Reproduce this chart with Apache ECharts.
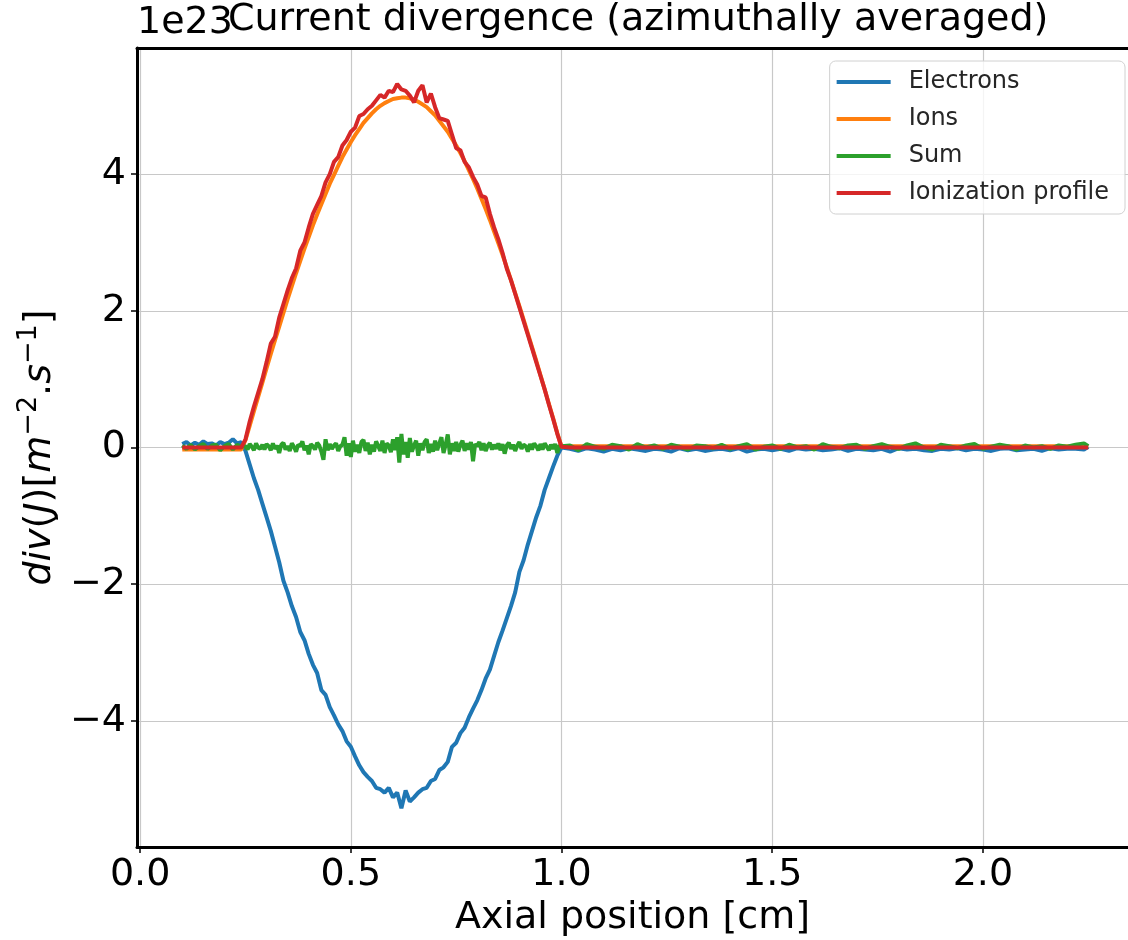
<!DOCTYPE html>
<html><head><meta charset="utf-8">
<script src="https://cdn.jsdelivr.net/npm/echarts@6/dist/echarts.min.js"></script>
<style>html,body{margin:0;padding:0;background:#fff}#c{width:1128px;height:940px}</style>
</head><body><div id="c"></div><script>
// Axial positions [cm] (electrons, ions, ionization profile)
const axialPos = [
 0.10,0.11,0.12,0.13,0.14,0.15,0.16,0.17,0.18,0.19,0.20,0.21,0.22,0.23,0.24,
 0.25,0.26,0.27,0.28,0.29,0.30,0.31,0.32,0.33,0.34,
 0.35,0.36,0.37,0.38,0.39,0.40,0.41,0.42,0.43,0.44,
 0.45,0.46,0.47,0.48,0.49,0.50,0.51,0.52,0.53,0.54,
 0.55,0.56,0.57,0.58,0.59,0.60,0.61,0.62,0.63,0.64,
 0.65,0.66,0.67,0.68,0.69,0.70,0.71,0.72,0.73,0.74,
 0.75,0.76,0.77,0.78,0.79,0.80,0.81,0.82,0.83,0.84,
 0.85,0.86,0.87,0.88,0.89,0.90,0.91,0.92,0.93,0.94,
 0.95,0.96,0.97,0.98,0.99,1.00,
 1.02,1.04,1.06,1.08,1.10,1.12,1.14,1.16,1.18,1.20,
 1.22,1.24,1.26,1.28,1.30,1.32,1.34,1.36,1.38,1.40,
 1.42,1.44,1.46,1.48,1.50,1.52,1.54,1.56,1.58,1.60,
 1.62,1.64,1.66,1.68,1.70,1.72,1.74,1.76,1.78,1.80,
 1.82,1.84,1.86,1.88,1.90,1.92,1.94,1.96,1.98,2.00,
 2.02,2.04,2.06,2.08,2.10,2.12,2.14,2.16,2.18,2.20,
 2.22,2.24,2.25
];
// Axial positions [cm] for the Sum series (finer in the active zone)
const sumPos = [
 0.10,0.11,0.12,0.13,0.14,0.15,0.16,0.17,0.18,0.19,0.20,0.21,0.22,0.23,0.24,
 0.250,0.255,0.260,0.265,0.270,0.275,0.280,0.285,0.290,0.295,
 0.300,0.305,0.310,0.315,0.320,0.325,0.330,0.335,0.340,0.345,
 0.350,0.355,0.360,0.365,0.370,0.375,0.380,0.385,0.390,0.395,
 0.400,0.405,0.410,0.415,0.420,0.425,0.430,0.435,0.440,0.445,
 0.450,0.455,0.460,0.465,0.470,0.475,0.480,0.485,0.490,0.495,
 0.500,0.505,0.510,0.515,0.520,0.525,0.530,0.535,0.540,0.545,
 0.550,0.555,0.560,0.565,0.570,0.575,0.580,0.585,0.590,0.595,
 0.600,0.605,0.610,0.615,0.620,0.625,0.630,0.635,0.640,0.645,
 0.650,0.655,0.660,0.665,0.670,0.675,0.680,0.685,0.690,0.695,
 0.700,0.705,0.710,0.715,0.720,0.725,0.730,0.735,0.740,0.745,
 0.750,0.755,0.760,0.765,0.770,0.775,0.780,0.785,0.790,0.795,
 0.800,0.805,0.810,0.815,0.820,0.825,0.830,0.835,0.840,0.845,
 0.850,0.855,0.860,0.865,0.870,0.875,0.880,0.885,0.890,0.895,
 0.900,0.905,0.910,0.915,0.920,0.925,0.930,0.935,0.940,0.945,
 0.950,0.955,0.960,0.965,0.970,0.975,0.980,0.985,0.990,0.995,
 1.000,
 1.02,1.04,1.06,1.08,1.10,1.12,1.14,1.16,1.18,1.20,
 1.22,1.24,1.26,1.28,1.30,1.32,1.34,1.36,1.38,1.40,
 1.42,1.44,1.46,1.48,1.50,1.52,1.54,1.56,1.58,1.60,
 1.62,1.64,1.66,1.68,1.70,1.72,1.74,1.76,1.78,1.80,
 1.82,1.84,1.86,1.88,1.90,1.92,1.94,1.96,1.98,2.00,
 2.02,2.04,2.06,2.08,2.10,2.12,2.14,2.16,2.18,2.20,
 2.22,2.24,2.25
];
// Values in units of 1e23 m^-2.s^-1
const electrons = [
 0.05,0.08,0.03,0.07,0.04,0.09,0.05,0.06,0.03,0.08,0.05,0.07,0.12,0.06,0.08,
 -0.05,-0.25,-0.45,-0.62,-0.82,-1.02,-1.22,-1.45,-1.68,-1.95,
 -2.12,-2.32,-2.48,-2.70,-2.82,-3.02,-3.18,-3.30,-3.55,-3.62,
 -3.80,-3.92,-4.05,-4.15,-4.30,-4.38,-4.52,-4.65,-4.75,-4.82,
 -4.88,-4.98,-5.00,-5.05,-4.98,-5.12,-5.05,-5.28,-5.02,-5.18,
 -5.12,-5.05,-5.00,-4.98,-4.88,-4.85,-4.72,-4.68,-4.60,-4.38,
 -4.32,-4.18,-4.10,-3.95,-3.82,-3.70,-3.55,-3.38,-3.25,-3.05,
 -2.85,-2.68,-2.50,-2.32,-2.12,-1.82,-1.65,-1.42,-1.22,-1.02,
 -0.85,-0.62,-0.45,-0.28,-0.12,0.00,
 -0.02,-0.05,-0.01,-0.03,-0.06,-0.02,-0.04,-0.01,-0.03,-0.05,
 -0.02,-0.03,-0.06,-0.01,-0.04,-0.02,-0.05,-0.03,-0.02,-0.04,
 -0.01,-0.06,-0.03,-0.02,-0.04,-0.02,-0.05,-0.01,-0.03,-0.02,
 -0.04,-0.03,-0.01,-0.05,-0.02,-0.03,-0.04,-0.02,-0.06,-0.01,
 -0.03,-0.02,-0.04,-0.05,-0.02,-0.03,-0.01,-0.04,-0.02,-0.03,
 -0.05,-0.02,-0.01,-0.04,-0.03,-0.02,-0.05,-0.01,-0.03,-0.02,
 -0.02,-0.03,0.01
];
const ions = [
 -0.03,-0.03,-0.03,-0.03,-0.03,-0.03,-0.03,-0.03,-0.03,-0.03,-0.03,-0.03,-0.03,-0.03,-0.03,
 0.11,0.32,0.53,0.74,0.95,1.16,1.37,1.57,1.77,1.97,
 2.17,2.36,2.55,2.73,2.91,3.08,3.25,3.41,3.56,3.71,
 3.86,3.99,4.12,4.25,4.36,4.47,4.57,4.66,4.75,4.82,
 4.89,4.95,5.00,5.04,5.07,5.10,5.11,5.12,5.12,5.11,
 5.09,5.06,5.02,4.98,4.92,4.86,4.78,4.70,4.62,4.52,
 4.42,4.31,4.19,4.06,3.93,3.79,3.64,3.49,3.33,3.16,
 2.99,2.82,2.64,2.45,2.26,2.07,1.87,1.67,1.47,1.27,
 1.06,0.85,0.64,0.43,0.21,0.01,
 0.02,0.02,0.02,0.02,0.02,0.02,0.02,0.02,0.02,0.02,
 0.02,0.02,0.02,0.02,0.02,0.02,0.02,0.02,0.02,0.02,
 0.02,0.02,0.02,0.02,0.02,0.02,0.02,0.02,0.02,0.02,
 0.02,0.02,0.02,0.02,0.02,0.02,0.02,0.02,0.02,0.02,
 0.02,0.02,0.02,0.02,0.02,0.02,0.02,0.02,0.02,0.02,
 0.02,0.02,0.02,0.02,0.02,0.02,0.02,0.02,0.02,0.02,
 0.02,0.02,0.02
];
const sumDiv = [
 0.03,-0.02,0.04,-0.03,0.02,0.05,-0.02,0.03,0.04,-0.04,0.02,0.05,-0.03,0.04,0.01,
 0.02,-0.03,0.05,0.01,-0.04,0.06,0.00,-0.02,0.04,-0.03,
 0.05,0.02,-0.04,0.06,-0.02,0.03,-0.08,0.04,0.07,-0.03,
 0.02,-0.05,0.06,0.01,-0.06,0.04,0.02,0.09,-0.04,0.03,
 -0.10,0.05,0.02,-0.03,0.07,0.03,-0.06,-0.18,0.12,-0.04,
 0.05,-0.02,0.03,0.06,-0.05,0.02,0.04,0.15,-0.12,0.06,
 -0.14,0.10,-0.06,0.04,-0.08,0.08,0.11,-0.05,0.07,-0.10,
 0.04,-0.06,0.09,0.02,-0.05,0.10,-0.08,0.06,0.03,-0.07,
 0.12,-0.04,0.15,-0.22,0.20,-0.10,0.08,-0.15,0.14,-0.06,
 0.03,0.10,-0.12,0.06,-0.04,0.08,0.12,-0.08,0.05,-0.06,
 0.10,-0.04,0.06,0.15,-0.08,0.04,0.19,-0.10,0.06,-0.05,
 0.08,-0.06,0.04,0.10,-0.05,0.06,-0.03,0.08,-0.20,0.05,
 0.02,0.08,-0.04,0.06,-0.05,0.03,0.07,-0.03,0.04,-0.02,
 0.06,-0.04,0.05,-0.09,0.03,0.07,-0.02,0.04,-0.05,0.03,
 0.08,-0.02,0.04,0.02,-0.06,0.05,-0.03,0.06,0.02,-0.04,
 0.05,-0.03,0.06,0.01,-0.04,0.04,-0.02,0.05,-0.08,0.03,
 0.02,
 0.03,-0.04,0.05,0.01,-0.02,0.04,0.02,-0.03,0.05,0.00,
 0.03,-0.02,0.04,0.01,-0.03,0.03,0.02,-0.01,0.04,-0.02,
 0.02,0.05,-0.03,0.01,0.03,-0.02,0.04,0.00,0.02,-0.03,
 0.05,0.01,-0.01,0.03,0.04,-0.02,0.02,0.05,0.01,-0.02,
 0.03,0.06,0.00,-0.03,0.04,0.02,-0.01,0.03,0.05,-0.02,
 0.01,0.04,0.02,-0.03,0.03,0.00,0.02,-0.02,0.03,0.01,
 0.04,0.06,0.02
];
const ionization = [
 0.00,0.00,0.00,0.00,0.00,0.00,0.00,0.00,0.00,0.00,0.00,0.00,0.00,0.00,0.00,
 0.12,0.38,0.60,0.80,1.00,1.25,1.52,1.62,1.90,2.10,
 2.30,2.48,2.62,2.88,3.00,3.22,3.42,3.55,3.68,3.88,
 4.00,4.18,4.25,4.42,4.50,4.62,4.68,4.85,4.88,4.95,
 5.00,5.08,5.16,5.12,5.22,5.20,5.32,5.24,5.22,5.15,
 5.05,5.22,5.30,5.05,5.18,4.98,4.82,4.80,4.78,4.58,
 4.38,4.35,4.18,4.10,3.96,3.85,3.68,3.66,3.42,3.22,
 3.05,2.85,2.62,2.45,2.25,2.05,1.85,1.65,1.45,1.25,
 1.05,0.85,0.63,0.42,0.20,0.01,
 0.00,0.00,0.00,0.00,0.00,0.00,0.00,0.00,0.00,0.00,
 0.00,0.00,0.00,0.00,0.00,0.00,0.00,0.00,0.00,0.00,
 0.00,0.00,0.00,0.00,0.00,0.00,0.00,0.00,0.00,0.00,
 0.00,0.00,0.00,0.00,0.00,0.00,0.00,0.00,0.00,0.00,
 0.00,0.00,0.00,0.00,0.00,0.00,0.00,0.00,0.00,0.00,
 0.00,0.00,0.00,0.00,0.00,0.00,0.00,0.00,0.00,0.00,
 0.00,0.00,0.00
];
const seriesNames = ['Electrons','Ions','Sum','Ionization profile'];
const seriesColors = ['#1f77b4','#ff7f0e','#2ca02c','#d62728'];
const xTicks = [0, 0.5, 1.0, 1.5, 2.0];
const xTickLabels = ['0.0','0.5','1.0','1.5','2.0'];
const yTicks = [-4, -2, 0, 2, 4];
const yTickLabels = ['\u22124','\u22122','0','2','4'];

const FONT = 'DejaVu Sans';
const chart = echarts.init(document.getElementById('c'), null, {renderer:'canvas'});
const pairs = (xs, vals) => xs.map((x, i) => [x, vals[i]]);
const allData = [
  pairs(axialPos, electrons), pairs(axialPos, ions),
  pairs(sumPos, sumDiv), pairs(axialPos, ionization)
];
const xMin = -0.0075, xMax = 2.3444, yMin = -5.846, yMax = 5.846;

const option = {
  animation: false,
  textStyle: {fontFamily: FONT},
  title: [
    {text: '1e23', left: 137, top: 4, padding: 0,
     textStyle: {fontSize: 38, fontWeight: 'normal', color: '#000', fontFamily: FONT}},
    {text: 'Current divergence (azimuthally averaged)', left: 228, top: 1, padding: 0,
     textStyle: {fontSize: 38, fontWeight: 'normal', color: '#000', fontFamily: FONT}}
  ],
  legend: {
    orient: 'vertical', right: 3, top: 61,
    data: seriesNames, icon: 'rect', itemWidth: 54, itemHeight: 4, itemGap: 7,
    padding: [6, 16, 6, 7],
    backgroundColor: 'rgba(255,255,255,0.8)', borderColor: '#d0d0d0', borderWidth: 1, borderRadius: 6,
    textStyle: {fontSize: 24, color: '#262626', lineHeight: 30, fontFamily: FONT, padding: [0, 0, 0, 13]}
  },
  grid: {left: 137, right: 0, top: 48, bottom: 93, outerBoundsMode: 'none', containLabel: false},
  xAxis: [
    {type: 'value', min: xMin, max: xMax, position: 'bottom',
     axisLine: {show: true, onZero: false, lineStyle: {color: '#000', width: 3}},
     axisTick: {show: true, customValues: xTicks, length: 6, lineStyle: {color: '#000', width: 1.5}},
     axisLabel: {customValues: xTicks, fontSize: 38, color: '#000', fontFamily: FONT, margin: 9,
       formatter: v => xTickLabels[xTicks.indexOf(v)] ?? ''},
     splitLine: {show: true, lineStyle: {color: '#c8c8c8', width: 1.2}},
     name: 'Axial position [cm]', nameLocation: 'middle', nameGap: 49,
     nameTextStyle: {fontSize: 38, color: '#000', fontFamily: FONT}},
    {type: 'value', min: xMin, max: xMax, position: 'top',
     axisLine: {show: true, onZero: false, lineStyle: {color: '#000', width: 3}},
     axisTick: {show: false}, axisLabel: {show: false}, splitLine: {show: false}}
  ],
  yAxis: {
    type: 'value', min: yMin, max: yMax,
    axisLine: {show: true, onZero: false, lineStyle: {color: '#000', width: 3}},
    axisTick: {show: true, customValues: yTicks, length: 6, lineStyle: {color: '#000', width: 1.5}},
    axisLabel: {customValues: yTicks, fontSize: 38, color: '#000', fontFamily: FONT, margin: 11,
      formatter: v => yTickLabels[yTicks.indexOf(v)] ?? ''},
    splitLine: {show: true, lineStyle: {color: '#c8c8c8', width: 1.2}},
    name: '{it|div}{n|(}{it|J}{n|)[}{it|m}{sup|\u22122}{n|.}{it|s}{sup|\u22121}{n|]}',
    nameLocation: 'middle', nameGap: 71,
    nameTextStyle: {fontSize: 38, color: '#000', fontFamily: FONT,
      rich: {
        it: {fontSize: 38, fontStyle: 'italic', fontFamily: FONT, color: '#000', lineHeight: 44, verticalAlign: 'bottom'},
        n: {fontSize: 38, fontFamily: FONT, color: '#000', lineHeight: 44, verticalAlign: 'bottom'},
        sup: {fontSize: 27, fontFamily: FONT, color: '#000', lineHeight: 44, verticalAlign: 'top'}
      }}
  },
  series: seriesNames.map((name, k) => ({
    name, type: 'line', xAxisIndex: 0, data: allData[k],
    showSymbol: false, symbol: 'none', clip: true,
    color: seriesColors[k],
    lineStyle: {color: seriesColors[k], width: 4},
    emphasis: {disabled: true}
  }))
};
chart.setOption(option);
</script></body></html>
